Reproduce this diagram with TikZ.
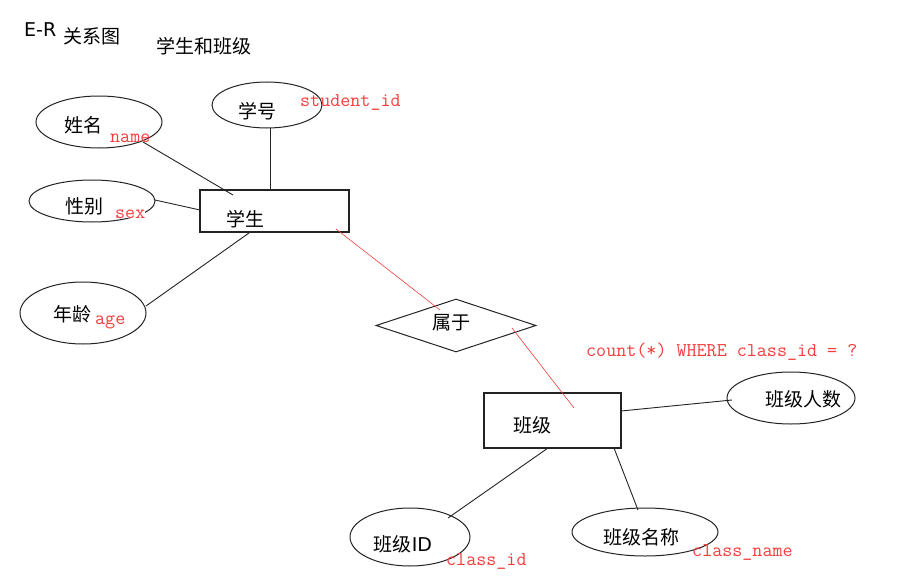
\documentclass[tikz,border=0pt]{standalone}
\usepackage{fontspec}
\setmainfont{Noto Sans CJK SC}
\newfontfamily\latinsans{DejaVu Sans}
\usetikzlibrary{shapes.geometric}
\definecolor{lred}{RGB}{245,60,60}
\definecolor{ink}{RGB}{35,35,35}
\begin{document}
\begin{tikzpicture}[x=1pt,y=-1pt,
  attr/.style={draw=ink,line width=1pt,ellipse,inner sep=0pt},
  ent/.style={draw=ink,line width=1.2pt,rectangle,inner sep=0pt},
  rel/.style={draw=ink,line width=1pt,diamond,inner sep=0pt},
  cn/.style={font=\fontsize{19}{19}\selectfont,inner sep=0pt,text=black},
  rl/.style={font=\ttfamily\fontsize{19.5}{19.5}\selectfont,inner sep=0pt,text=lred},
  link/.style={draw=ink,line width=0.9pt},
  rlink/.style={draw=lred,line width=0.6pt}]
\useasboundingbox (0,0) rectangle (905,586);
% titles
\node[cn,anchor=west,font=\latinsans\fontsize{19}{19}\selectfont] (er) at (24,30) {E-R};
\node[cn,anchor=west] (gx) at (63,36) {关系图};
\node[cn,anchor=west] (tt) at (156,46) {学生和班级};
% attribute ellipses
\node[attr,minimum width=126pt,minimum height=52pt] (xm) at (99,122) {};
\node[attr,minimum width=110pt,minimum height=46pt] (xh) at (267,105) {};
\node[attr,minimum width=126pt,minimum height=42pt] (xb) at (92,201) {};
\node[attr,minimum width=126pt,minimum height=62pt] (nl) at (83,313) {};
\node[attr,minimum width=128pt,minimum height=52pt] (rs) at (791,398) {};
\node[attr,minimum width=120pt,minimum height=58pt] (bid) at (410,537) {};
\node[attr,minimum width=146pt,minimum height=48pt] (bmc) at (645,532) {};
% entities and relation
\node[ent,minimum width=149pt,minimum height=42pt] (stu) at (274.5,211) {};
\node[ent,minimum width=137pt,minimum height=55pt] (cls) at (552.5,420.5) {};
\node[rel,minimum width=160pt,minimum height=53pt,aspect=3] (sy) at (456,325.5) {};
% texts
\node[cn] (t1) at (83,125) {姓名};
\node[cn] (t2) at (257,111) {学号};
\node[cn] (t3) at (84,206) {性别};
\node[cn] (t4) at (72,314) {年龄};
\node[cn] (t5) at (245,219) {学生};
\node[cn] (t6) at (451,323) {属于};
\node[cn] (t7) at (532,425) {班级};
\node[cn] (t8) at (803,399) {班级人数};
\node[cn] (t9) at (403,544) {班级\latinsans ID};
\node[cn] (t10) at (641,537) {班级名称};
% red labels
\node[rl,anchor=west] (r1) at (110,138) {name};
\node[rl,anchor=west] (r2) at (300,102) {student\_id};
\node[rl,anchor=west,fill=white] (r3) at (115,214) {sex};
\node[rl,anchor=west] (r4) at (95,322) {age};
\node[rl,anchor=west] (r5) at (586,352) {count(*) WHERE class\_id = ?};
\node[rl,anchor=west] (r6) at (446,561) {class\_id};
\node[rl,anchor=west] (r7) at (692,552) {class\_name};
% connector end points
\coordinate (a1) at (143,142);
\coordinate (a2) at (233,195);
\coordinate (b1) at (270,128);
\coordinate (b2) at (270,191);
\coordinate (c1) at (155,200);
\coordinate (c2) at (200,210);
\coordinate (d1) at (146,306);
\coordinate (d2) at (249,233);
\coordinate (e1) at (336,229);
\coordinate (e2) at (440,310);
\coordinate (f1) at (512,328);
\coordinate (f2) at (574,408);
\coordinate (g1) at (621,411);
\coordinate (g2) at (732,400);
\coordinate (h1) at (548,448);
\coordinate (h2) at (448,518);
\coordinate (i1) at (614,448);
\coordinate (i2) at (638,510);
% connectors
\draw[link] (a1) -- (a2);
\draw[link] (b1) -- (b2);
\draw[link] (c1) -- (c2);
\draw[link] (d1) -- (d2);
\draw[rlink] (e1) -- (e2);
\draw[rlink] (f1) -- (f2);
\draw[link] (g1) -- (g2);
\draw[link] (h1) -- (h2);
\draw[link] (i1) -- (i2);
\end{tikzpicture}
\end{document}
